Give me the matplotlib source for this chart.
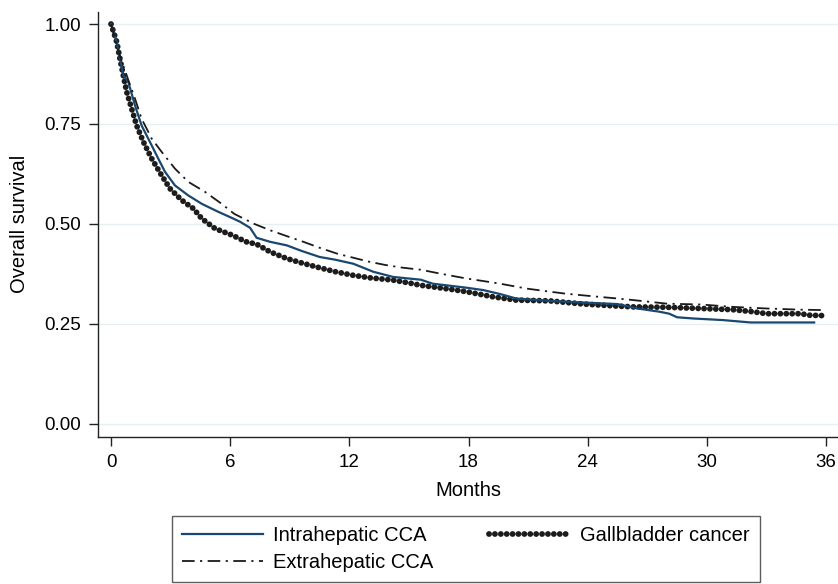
import matplotlib
matplotlib.use("Agg")
import matplotlib.pyplot as plt

plt.rcParams["font.family"] = ["Liberation Sans", "DejaVu Sans"]

# Survival points (months, overall survival)
intra_t = [0, 0.29, 0.62, 0.87, 1.21, 1.54, 2.05, 2.38, 2.72, 3.22, 3.89, 4.57,
           5.4, 6.16, 6.5, 7.0, 7.33, 8.0, 8.85, 9.6, 10.5, 11.3, 12.2, 12.7,
           13.2, 14.2, 15.6, 16.2, 17.9, 18.75, 19.6, 20.4, 22.1, 24.6, 25.5, 26.5,
           27.6, 28.1, 28.5, 29.3, 30.8, 32.2, 35.4]
intra_s = [1.0, 0.955, 0.871, 0.855, 0.796, 0.746, 0.696, 0.663, 0.63, 0.596,
           0.571, 0.55, 0.53, 0.513, 0.505, 0.49, 0.465, 0.455, 0.446, 0.432,
           0.417, 0.41, 0.40, 0.39, 0.38, 0.367, 0.36, 0.35, 0.34, 0.334, 0.324,
           0.313, 0.307, 0.301, 0.299, 0.288, 0.28, 0.275, 0.266, 0.263, 0.259,
           0.253, 0.253]

extra_t = [0, 0.45, 0.87, 1.21, 1.54, 2.05, 2.55, 3.22, 3.89, 4.73, 5.57, 6.2,
           7.2, 8.0, 8.8, 9.68, 10.5, 11.4, 12.2, 13.0, 13.8, 14.7, 15.6, 16.6,
           17.9, 18.7, 19.6, 20.9, 21.8, 22.9, 24.6, 25.5, 26.3, 28.0, 29.7, 31.3,
           33.0, 34.7, 35.9]
extra_s = [1.0, 0.92, 0.86, 0.813, 0.763, 0.713, 0.68, 0.638, 0.605, 0.58, 0.55,
           0.525, 0.50, 0.484, 0.47, 0.455, 0.44, 0.425, 0.415, 0.405, 0.397,
           0.39, 0.385, 0.375, 0.363, 0.357, 0.35, 0.338, 0.332, 0.325, 0.317,
           0.313, 0.309, 0.30, 0.298, 0.292, 0.288, 0.285, 0.284]

gall_t = [0, 0.29, 0.45, 0.62, 0.79, 1.04, 1.29, 1.63, 2.05, 2.55, 2.97, 3.56,
          4.15, 4.57, 5.24, 6.08, 6.8, 7.33, 8.0, 8.85, 9.6, 10.5, 11.3, 12.2,
          13.0, 14.2, 15.0, 15.6, 16.2, 17.1, 17.9, 19.25, 20.4, 22.1, 23.8, 25.5,
          26.3, 28.0, 29.7, 31.3, 32.3, 33.0, 34.7, 35.2, 36.0]
gall_s = [1.0, 0.955, 0.913, 0.871, 0.83, 0.788, 0.746, 0.705, 0.663, 0.621,
          0.588, 0.559, 0.538, 0.513, 0.488, 0.472, 0.455, 0.449, 0.43, 0.413,
          0.402, 0.39, 0.38, 0.371, 0.365, 0.359, 0.352, 0.346, 0.342, 0.336,
          0.33, 0.317, 0.309, 0.307, 0.299, 0.294, 0.292, 0.291, 0.288, 0.285,
          0.28, 0.275, 0.275, 0.271, 0.27]

x_ticks = [0, 6, 12, 18, 24, 30, 36]
y_ticks = [0.0, 0.25, 0.5, 0.75, 1.0]

fig = plt.figure(figsize=(8.38, 5.84), dpi=100)
ax = fig.add_axes([0.1173, 0.2522, 0.8827, 0.7278])

tick_fs = 13.5
lab_fs = 14.5
ax.plot(intra_t, intra_s, color="#1a476f", lw=1.6,
        label="Intrahepatic CCA", zorder=3)
ax.plot(extra_t, extra_s, color="#1a1a1a", lw=1.3,
        linestyle=(0, (7, 3, 1.2, 3)), label="Extrahepatic CCA", zorder=3)
ax.plot(gall_t, gall_s, color="#1c1c1c", lw=4.2,
        linestyle=(0, (0.01, 1.0)), dash_capstyle="round",
        label="Gallbladder cancer", zorder=2)

ax.set_xlim(-0.64, 36.6)
ax.set_ylim(-0.033, 1.031)
ax.set_xticks(x_ticks)
ax.set_yticks(y_ticks)
ax.set_yticklabels([f"{v:.2f}" for v in y_ticks])
ax.grid(axis="y", color="#e6f0f2", lw=1.0, zorder=0)
ax.set_axisbelow(True)
for s in ("top", "right"):
    ax.spines[s].set_visible(False)
for s in ("left", "bottom"):
    ax.spines[s].set_color("#222222")
    ax.spines[s].set_linewidth(1.0)
ax.tick_params(labelsize=tick_fs, length=6.5, width=1.0, color="#222222", pad=6)
ax.set_xlabel("Months", fontsize=lab_fs, labelpad=7)
ax.set_ylabel("Overall survival", fontsize=lab_fs, labelpad=11)

h, l = ax.get_legend_handles_labels()
leg = fig.legend(h, l, ncol=2, loc="upper left",
                 bbox_to_anchor=(172 / 838, 1 - 516 / 584),
                 fontsize=lab_fs, frameon=True, fancybox=False, edgecolor="#333333",
                 handlelength=4.0, handletextpad=0.5, columnspacing=2.8,
                 borderpad=0.5, labelspacing=0.4, borderaxespad=0)
leg.get_frame().set_linewidth(1.0)

fig.savefig("out.png", dpi=100)
